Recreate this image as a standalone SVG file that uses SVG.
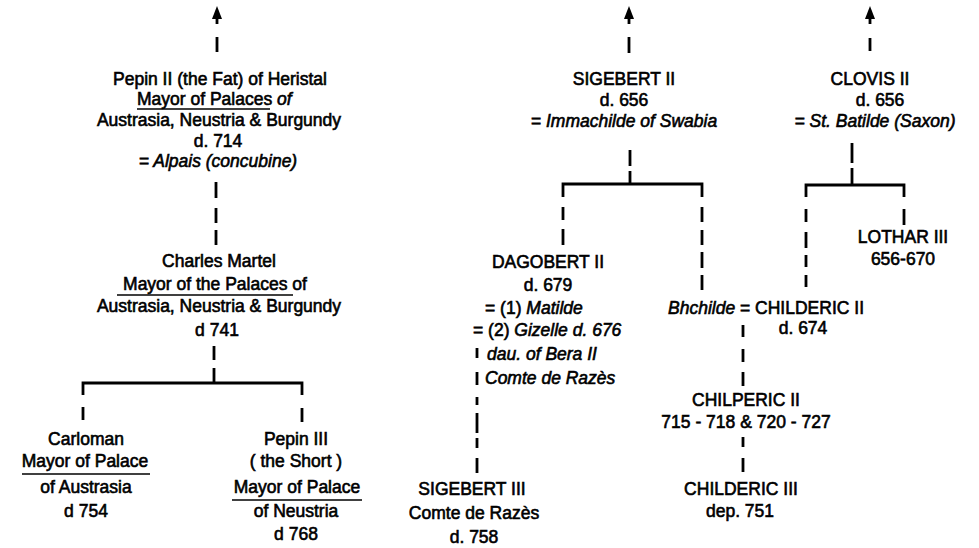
<svg xmlns="http://www.w3.org/2000/svg" width="979" height="548" viewBox="0 0 979 548">
<style>
text{font-family:"Liberation Sans",Arial,Helvetica,sans-serif;font-size:17.5px;font-weight:normal;fill:#000;stroke:#000;stroke-width:0.6}
.m{text-anchor:middle}
.i{font-style:italic}
.ln{stroke:#000;stroke-width:2.8;fill:none}
.u{stroke:#000;stroke-width:1.6;fill:none}
.ah{fill:#000}
</style>
<rect width="979" height="548" fill="#fff"/>
<g id="connectors">
  <!-- left column -->
  <polygon class="ah" points="212,19 217,6 222,19"/>
  <path class="ln" d="M217,16V24 M217,37V52"/>
  <path class="ln" d="M216,182V198 M216,208V223 M216,230V245"/>
  <path class="ln" d="M214,346V360 M214,368V383 M83,395V383H302V395 M83,407V420 M302,408V422"/>
  <!-- middle column -->
  <polygon class="ah" points="624,19 629,6 634,19"/>
  <path class="ln" d="M629,16V24 M629,37V53"/>
  <path class="ln" d="M630,150V166 M630,171V184 M563,197V184H702V197"/>
  <path class="ln" d="M563,207V220 M563,229V245"/>
  <path class="ln" d="M702,207V222 M702,230V245 M702,252V268 M702,275V290"/>
  <path class="ln" d="M477,348V358 M477,372V385 M477,397V405 M477,413V433 M477,438V448 M477,458V473"/>
  <!-- right column -->
  <polygon class="ah" points="865,19 870,6 875,19"/>
  <path class="ln" d="M870,16V24 M870,38V51"/>
  <path class="ln" d="M852,143V163 M852,168V185 M806,197V185H904V197"/>
  <path class="ln" d="M806,209V222 M806,232V248 M806,255V267 M806,275V287"/>
  <path class="ln" d="M904,209V225"/>
  <path class="ln" d="M743,325V337 M743,349V362 M743,372V386"/>
  <path class="ln" d="M743,437V447 M743,458V472"/>
</g>
<g id="pepin2">
  <text class="m" x="220" y="85">Pepin II (the Fat) of Heristal</text>
  <text x="137" y="105">Mayor of Palaces<tspan class="i"> of</tspan></text>
  <path class="u" d="M137,109H270"/>
  <text class="m" x="219" y="126">Austrasia, Neustria &amp; Burgundy</text>
  <text class="m" x="218" y="147">d. 714</text>
  <text class="m i" x="218" y="167">= Alpais (concubine)</text>
</g>
<g id="charles">
  <text class="m" x="219" y="267">Charles Martel</text>
  <text class="m" x="215" y="290">Mayor of the Palaces of</text>
  <path class="u" d="M117,295H293"/>
  <text class="m" x="219" y="312">Austrasia, Neustria &amp; Burgundy</text>
  <text class="m" x="217" y="336">d  741</text>
</g>
<g id="carloman">
  <text class="m" x="86" y="445">Carloman</text>
  <text class="m" x="85" y="467">Mayor of Palace</text>
  <path class="u" d="M22,474H150"/>
  <text class="m" x="86" y="493">of Austrasia</text>
  <text class="m" x="86" y="517">d  754</text>
</g>
<g id="pepin3">
  <text class="m" x="296" y="445">Pepin III</text>
  <text class="m" x="296" y="467">( the Short )</text>
  <text class="m" x="297" y="493">Mayor of Palace</text>
  <path class="u" d="M232,500H362"/>
  <text class="m" x="296" y="517">of Neustria</text>
  <text class="m" x="296" y="540">d  768</text>
</g>
<g id="sigebert2">
  <text class="m" x="624" y="85">SIGEBERT II</text>
  <text class="m" x="624" y="106">d. 656</text>
  <text class="m i" x="624" y="127">= Immachilde of Swabia</text>
</g>
<g id="clovis2">
  <text class="m" x="870" y="85">CLOVIS II</text>
  <text class="m" x="880" y="106">d. 656</text>
  <text class="m i" x="875" y="127">= St. Batilde (Saxon)</text>
</g>
<g id="dagobert2">
  <text class="m" x="548" y="268">DAGOBERT II</text>
  <text class="m" x="548" y="291">d. 679</text>
  <text x="485" y="314">= (1) <tspan class="i">Matilde</tspan></text>
  <text x="473" y="336">= (2) <tspan class="i">Gizelle  d. 676</tspan></text>
  <text class="i" x="487" y="360">dau. of Bera II</text>
  <text class="i" x="485" y="384">Comte de Razès</text>
</g>
<g id="lothar3">
  <text class="m" x="903" y="243">LOTHAR III</text>
  <text class="m" x="903" y="265">656-670</text>
</g>
<g id="childeric2">
  <text x="668" y="314"><tspan class="i">Bhchilde</tspan> = CHILDERIC II</text>
  <text class="m" x="803" y="334">d. 674</text>
</g>
<g id="sigebert3">
  <text class="m" x="472" y="495">SIGEBERT III</text>
  <text class="m" x="474" y="519">Comte de Razès</text>
  <text class="m" x="474" y="543">d. 758</text>
</g>
<g id="chilperic2">
  <text class="m" x="746" y="406">CHILPERIC II</text>
  <text class="m" x="746" y="428">715 - 718 &amp; 720 - 727</text>
</g>
<g id="childeric3">
  <text class="m" x="741" y="495">CHILDERIC III</text>
  <text class="m" x="740" y="517">dep. 751</text>
</g>
</svg>
